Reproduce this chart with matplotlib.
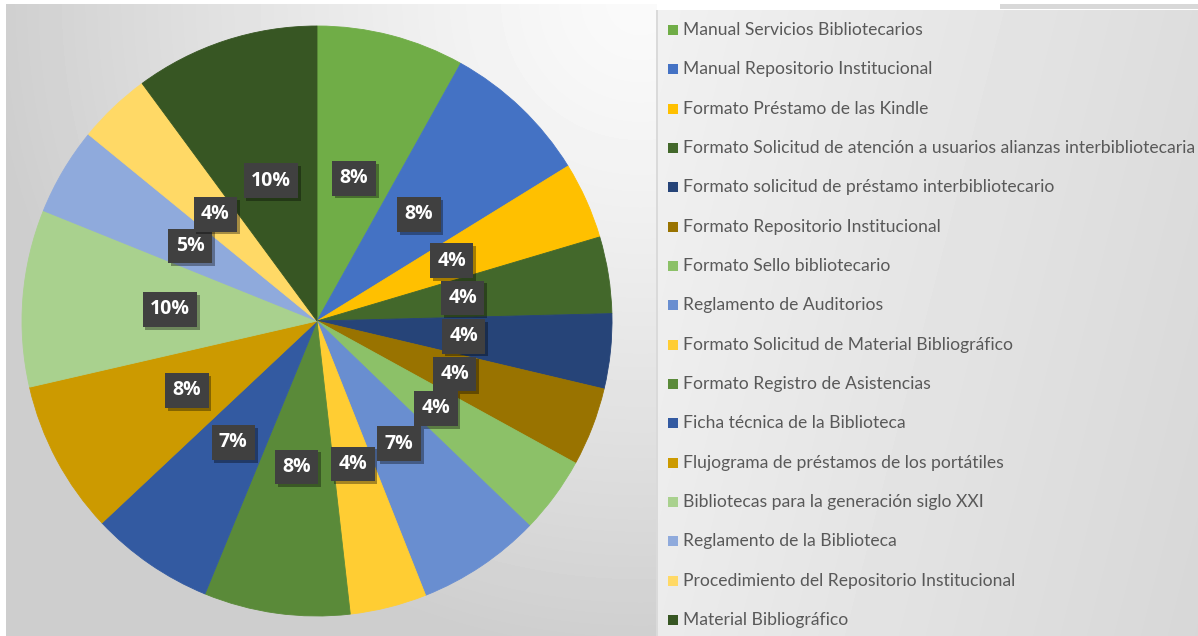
import numpy as np
import matplotlib

matplotlib.use("Agg")

import matplotlib.pyplot as plt
import matplotlib.patheffects as pe
from matplotlib.patches import Rectangle


CATEGORIES = [
    "Manual Servicios Bibliotecarios",
    "Manual Repositorio Institucional",
    "Formato Préstamo de las Kindle",
    "Formato Solicitud de atención a usuarios alianzas interbibliotecaria",
    "Formato solicitud de préstamo interbibliotecario",
    "Formato Repositorio Institucional",
    "Formato Sello bibliotecario",
    "Reglamento de Auditorios",
    "Formato Solicitud de Material Bibliográfico",
    "Formato Registro de Asistencias",
    "Ficha técnica de la Biblioteca",
    "Flujograma de préstamos de los portátiles",
    "Bibliotecas para la generación siglo XXI",
    "Reglamento de la Biblioteca",
    "Procedimiento del Repositorio Institucional",
    "Material Bibliográfico",
]

SHARES = [8.1, 8.1, 4.2, 4.2, 4.1, 4.3, 4.2, 6.8, 4.2, 8.0, 6.8, 8.4, 9.7, 4.8, 4.0, 10.1]

COLORS = [
    "#70AD47", "#4472C4", "#FFC000", "#43682B",
    "#264478", "#997300", "#8CC168", "#698ED0",
    "#FFCD33", "#5A8A39", "#335AA1", "#CC9A00",
    "#A9D18E", "#8FAADC", "#FFD966", "#375623",
]

W, H, DPI = 1198, 636, 100
TEXT_GRAY = "#595959"
LABEL_BOX = "#404040"


def background() -> np.ndarray:
    yy, xx = np.mgrid[0:H, 0:W].astype(float)
    img = np.full((H, W), 255.0)

    # chart panel: radial shade, bright towards the upper right
    d = np.hypot(xx - 640, yy)
    pie_bg = 250 - 44 * np.clip(d / 650, 0, 1) ** 1.3
    panel = (xx >= 6) & (xx < 657) & (yy >= 4)
    img[panel] = pie_bg[panel]

    # legend panel: soft linear shade
    leg = (xx >= 658) & (yy >= 10)
    leg_bg = 241 - 20 * (xx - 658) / (W - 658) - 6 * yy / H
    img[leg] = leg_bg[leg]
    img[(xx >= 656) & (xx < 658) & (yy >= 10)] = 218
    img[(xx >= 1000) & (yy >= 4) & (yy < 9)] = 216
    return img


fig = plt.figure(figsize=(W / DPI, H / DPI), dpi=DPI)
bg = fig.add_axes([0, 0, 1, 1])
bg.imshow(background(), cmap="gray", vmin=0, vmax=255, aspect="auto", interpolation="bilinear")
bg.axis("off")

cx, cy, R = 317, 321, 295
ax = fig.add_axes([(cx - R) / W, (H - cy - R) / H, 2 * R / W, 2 * R / H])
ax.set_facecolor("none")

wedges, _, autotexts = ax.pie(
    SHARES,
    colors=COLORS,
    startangle=90,
    counterclock=False,
    autopct=lambda p: f"{p:.0f}%",
    pctdistance=0.5,
)
for w in wedges:
    w.set_edgecolor(w.get_facecolor())
    w.set_linewidth(0.6)

for t in autotexts:
    t.set_color("white")
    t.set_fontsize(14)
    t.set_fontweight("bold")
    t.set_family("Open Sans")
    t.set_bbox(dict(boxstyle="square,pad=0.38", facecolor=LABEL_BOX, edgecolor="none"))
    t.get_bbox_patch().set_path_effects(
        [pe.SimplePatchShadow(offset=(2, -2), shadow_rgbFace="black", alpha=0.35), pe.Normal()]
    )

ax.set_xlim(-1, 1)
ax.set_ylim(-1, 1)
ax.axis("off")

# legend column on the right
y0, step = 30, 39.33
for i, (label, color) in enumerate(zip(CATEGORIES, COLORS)):
    y = y0 + i * step
    fig.add_artist(
        Rectangle((668 / W, 1 - (y + 5) / H), 10 / W, 10 / H,
                  transform=fig.transFigure, facecolor=color, edgecolor="none")
    )
    fig.text(683 / W, 1 - y / H, label, va="center", ha="left",
             fontsize=12.6, color=TEXT_GRAY, family="Lato")

fig.savefig("out.png", dpi=DPI)
